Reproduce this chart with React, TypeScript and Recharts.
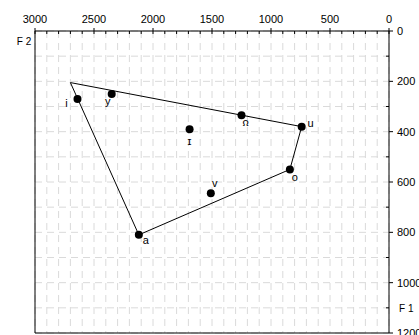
import React from 'react';
import {
  ScatterChart,
  Scatter,
  XAxis,
  YAxis,
  CartesianGrid,
  ReferenceLine
} from 'recharts';

// vowel formants (Hz)
const VOWELS = ['i', 'y', 'ɪ', 'ʊ', 'u', 'o', 'ʌ', 'a'];
const F2 = [2640, 2350, 1690, 1250, 740, 840, 1510, 2120];
const F1 = [270, 250, 390, 335, 380, 550, 645, 810];

// outline of the vowel space
const OUTLINE_F2 = [2700, 740, 840, 2120, 2700];
const OUTLINE_F1 = [205, 380, 550, 810, 205];

const F2_TICKS = Array.from({ length: 31 }, (_, i) => i * 100);
const F1_TICKS = Array.from({ length: 13 }, (_, i) => i * 100);

const FONT = '"Liberation Sans", Arial, sans-serif';

// label placement relative to the dot: [dx, dy, upside-down]
const LABEL_POS: Record<string, [number, number, boolean]> = {
  i: [-11, 8, false],
  y: [-4, 11, false],
  'ɪ': [0, 16, false],
  'ʊ': [4, 9, true],
  u: [9, 0, false],
  o: [5, 12, false],
  'ʌ': [4, -8, true],
  a: [7, 9, false]
};

const points = VOWELS.map((v, i) => ({ label: v, f2: F2[i], f1: F1[i] }));
const outline = OUTLINE_F2.map((x, i) => ({ f2: x, f1: OUTLINE_F1[i] }));

const TopTick = ({ x, y, payload }: any) => {
  const v = payload.value;
  const major = v % 500 === 0;
  return (
    <g>
      <line x1={x} x2={x} y1={major ? y - 3 : y} y2={y + 3} stroke="#000" />
      {major && (
        <text x={x} y={y - 8} textAnchor="middle" fontSize={11} fill="#000" fontFamily={FONT}>
          {v}
        </text>
      )}
      {v === 3000 && (
        <text x={x - 11} y={y + 14} textAnchor="middle" fontSize={10} fill="#000" fontFamily={FONT}>
          F 2
        </text>
      )}
    </g>
  );
};

const RightTick = ({ x, y, payload }: any) => {
  const v = payload.value;
  const major = v % 200 === 0;
  return (
    <g>
      <line x1={major ? x : x - 3} x2={major ? x + 4 : x} y1={y} y2={y} stroke="#000" />
      {major && (
        <text x={x + 8} y={y + 4} fontSize={11} fill="#000" fontFamily={FONT}>
          {v}
        </text>
      )}
      {v === 1100 && (
        <text x={x + 10} y={y + 4} fontSize={10} fill="#000" fontFamily={FONT}>
          F 1
        </text>
      )}
    </g>
  );
};

const VowelDot = ({ cx, cy, payload }: any) => {
  const [dx, dy, flip] = LABEL_POS[payload.label] || [6, 10, false];
  const tx = cx + dx;
  const ty = cy + dy;
  return (
    <g>
      <circle cx={cx} cy={cy} r={4} fill="#000" />
      {flip ? (
        <text
          x={tx}
          y={ty}
          textAnchor="middle"
          dominantBaseline="central"
          fontSize={11}
          fill="#000"
          fontFamily={FONT}
          transform={`rotate(180 ${tx} ${ty})`}
        >
          {payload.label}
        </text>
      ) : (
        <text x={tx} y={ty} textAnchor="middle" fontSize={11} fill="#000" fontFamily={FONT}>
          {payload.label}
        </text>
      )}
    </g>
  );
};

export default function App() {
  return (
    <div style={{ position: 'absolute', left: 0, top: 0, background: '#fff' }}>
      <ScatterChart width={419} height={335} margin={{ top: 0, right: 0, bottom: 2, left: 35 }}>
        <CartesianGrid stroke="#dadada" strokeDasharray="7 5" />
        <XAxis
          type="number"
          dataKey="f2"
          orientation="top"
          reversed
          domain={[0, 3000]}
          ticks={F2_TICKS}
          interval={0}
          height={31}
          tickSize={0}
          tickMargin={0}
          tickLine={false}
          axisLine={{ stroke: '#000' }}
          tick={<TopTick />}
        />
        <YAxis
          type="number"
          dataKey="f1"
          orientation="right"
          reversed
          domain={[0, 1200]}
          ticks={F1_TICKS}
          interval={0}
          width={30}
          tickSize={0}
          tickMargin={0}
          tickLine={false}
          axisLine={{ stroke: '#000' }}
          tick={<RightTick />}
        />
        <ReferenceLine x={3000} stroke="#000" />
        <ReferenceLine y={1200} stroke="#000" />
        <Scatter
          data={outline}
          line={{ stroke: '#000', strokeWidth: 1 }}
          lineType="joint"
          shape={() => <g />}
          isAnimationActive={false}
        />
        <Scatter data={points} shape={<VowelDot />} isAnimationActive={false} />
      </ScatterChart>
    </div>
  );
}
